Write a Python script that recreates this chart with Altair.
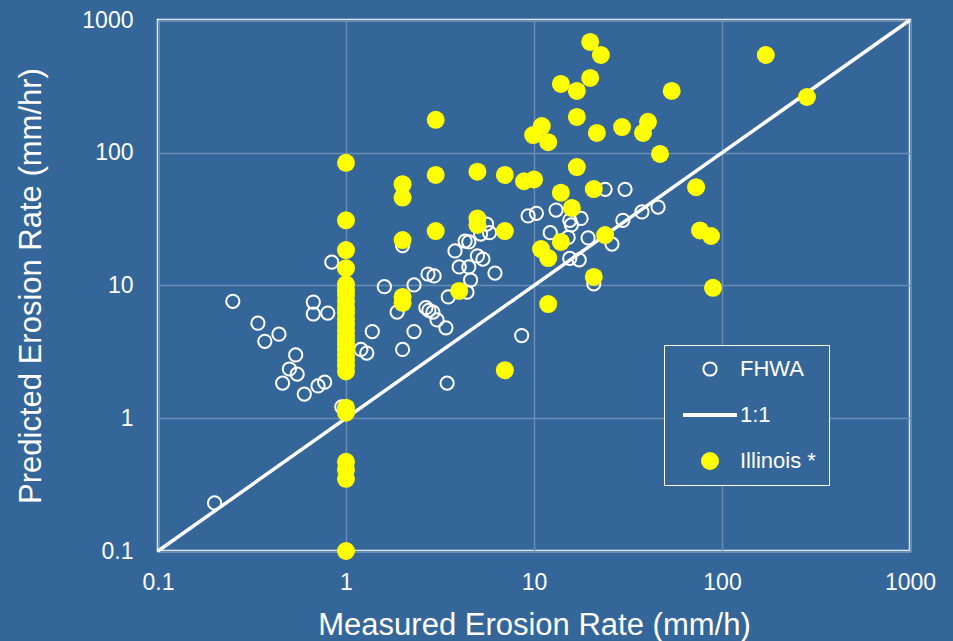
import altair as alt
import pandas as pd

# FHWA data (measured, predicted) in mm/h
fhwa_x = [0.2, 0.25, 0.34, 0.37, 0.44, 0.54, 0.5, 0.55, 0.46, 0.6, 0.71, 0.77,
          0.67, 0.67, 0.8, 0.84, 0.95, 1.2, 1.29, 1.38, 1.6, 1.87, 2.0, 2.0,
          2.3, 2.3, 2.73, 2.94, 2.66, 2.76, 2.9, 3.05, 3.4, 3.5, 4.4, 4.6,
          3.45, 3.8, 4.0, 4.5, 5.0, 5.35, 6.2, 4.3, 4.5, 5.2, 5.8, 5.6,
          8.6, 9.3, 10.3, 13.1, 12.2, 15.5, 15.8, 17.8, 15.2, 19.4, 15.5, 17.4,
          23.9, 30.5, 26.0, 29.7, 37.5, 45.7, 20.8]
fhwa_y = [0.23, 7.6, 5.2, 3.8, 4.3, 3.0, 2.35, 2.15, 1.84, 1.52, 1.75, 1.87,
          7.5, 6.1, 6.2, 15.0, 1.22, 3.3, 3.1, 4.5, 9.8, 6.3, 3.3, 20.0,
          10.1, 4.5, 12.2, 11.8, 6.8, 6.5, 6.3, 5.5, 4.8, 8.2, 8.9, 11.0,
          1.84, 18.2, 13.8, 13.8, 16.7, 15.8, 12.4, 21.6, 21.3, 24.4, 25.0, 29.0,
          4.2, 33.4, 35.0, 37.0, 25.0, 31.0, 28.6, 32.0, 23.0, 22.8, 16.0, 15.6,
          53.0, 53.0, 20.5, 31.0, 35.8, 39.0, 10.3]

# Illinois data
il_x = [1, 1, 1, 1, 1, 1, 1, 1, 1, 1, 1, 1, 1, 1, 1, 1, 1, 1, 1, 1, 1, 1, 1,
        1, 1, 1, 1,
        2, 2, 2, 2, 2, 3, 3, 3, 4, 5, 5, 5, 7, 7, 7, 8.85, 10, 9.9, 11, 11.9,
        10.9, 11.9, 11.9, 13.9, 13.9, 13.9, 16.9, 16.9, 16.9, 15.9, 19.9, 22.7,
        19.9, 21.6, 20.8, 20.8, 23.9, 29.4, 38, 40.4, 46.8, 54, 72.8, 76.4,
        87.4, 89.6, 171, 283]
il_y = [84, 31, 18.5, 13.5, 10.2, 9.2, 8.5, 7.6, 6.8, 6.2, 5.6, 5.1, 4.6, 4.2,
        3.9, 3.6, 3.3, 3.0, 2.75, 2.5, 2.25, 1.2, 1.1, 0.47, 0.41, 0.35, 0.1,
        58, 46, 22, 8.2, 7.4, 177, 68, 25.7, 9.1, 72, 32, 28.6, 68, 25.7, 2.3,
        61, 63, 136, 159, 120, 18.8, 16.1, 7.25, 330, 50, 21.3, 292, 186, 78,
        38.4, 683, 545, 366, 141, 53.3, 11.6, 24, 156, 141, 171, 98, 292, 55,
        26, 23.6, 9.6, 545, 263]

series_names = ["FHWA", "1:1", "Illinois *"]
one_to_one = [0.1, 1000]
tick_values = [0.1, 1, 10, 100, 1000]

points = pd.DataFrame({
    "measured": fhwa_x + il_x,
    "predicted": fhwa_y + il_y,
    "series": ["FHWA"] * len(fhwa_x) + ["Illinois *"] * len(il_x),
})
line_df = pd.DataFrame({"measured": one_to_one, "predicted": one_to_one})

FONT = "Liberation Sans"
xscale = alt.Scale(type="log", domain=[0.1, 1000], nice=False)
yscale = alt.Scale(type="log", domain=[0.1, 1000], nice=False)

xaxis = alt.Axis(values=tick_values, format="~g", title="Measured Erosion Rate (mm/h)",
                 labelPadding=20, titlePadding=16, ticks=False, domain=False,
                 labelFlush=False, labelOverlap=False)
yaxis = alt.Axis(values=tick_values, format="~g", title="Predicted Erosion Rate (mm/hr)",
                 labelPadding=25, titlePadding=34, ticks=False, domain=False,
                 labelFlush=False, labelOverlap=False)

line = alt.Chart(line_df).mark_line(color="white", strokeWidth=3.5).encode(
    x=alt.X("measured:Q", scale=xscale, axis=xaxis),
    y=alt.Y("predicted:Q", scale=yscale, axis=yaxis),
)

legend = alt.Legend(
    title=None, orient="none", legendX=506, legendY=325,
    strokeColor="white", fillColor="#346699", padding=13, symbolOffset=22,
    labelFont=FONT, labelFontSize=22, labelColor="white", labelOffset=19,
    labelLimit=300, rowPadding=24,
)

pts = alt.Chart(points).mark_point(filled=True, opacity=1).encode(
    x=alt.X("measured:Q", scale=xscale, axis=xaxis),
    y=alt.Y("predicted:Q", scale=yscale, axis=yaxis),
    shape=alt.Shape("series:N", scale=alt.Scale(domain=series_names, range=["circle", "M-3,0H3", "circle"]), legend=legend),
    fill=alt.Fill("series:N", scale=alt.Scale(domain=series_names, range=["transparent", "white", "#FFFF00"]), legend=legend),
    stroke=alt.Stroke("series:N", scale=alt.Scale(domain=series_names, range=["white", "white", "#FFFF00"]), legend=legend),
    size=alt.Size("series:N", scale=alt.Scale(type="ordinal", domain=series_names, range=[175, 324, 324]), legend=legend),
    strokeWidth=alt.StrokeWidth("series:N", scale=alt.Scale(type="ordinal", domain=series_names, range=[2, 4, 0]), legend=legend),
)

chart = alt.layer(line, pts).properties(
    width=752, height=531,
    autosize=alt.AutoSizeParams(type="none"),
    padding={"left": 158, "top": 20, "right": 43, "bottom": 90},
    background="#346699",
).configure_view(
    stroke="white", strokeWidth=2.5,
).configure_axis(
    labelFont=FONT, labelFontSize=23, labelColor="white",
    titleFont=FONT, titleFontSize=31, titleColor="white", titleFontWeight="normal",
    grid=True, gridColor="#6a8db5", gridWidth=1.5,
)

chart.save("out.html", embed_options={"renderer": "svg", "actions": False})
